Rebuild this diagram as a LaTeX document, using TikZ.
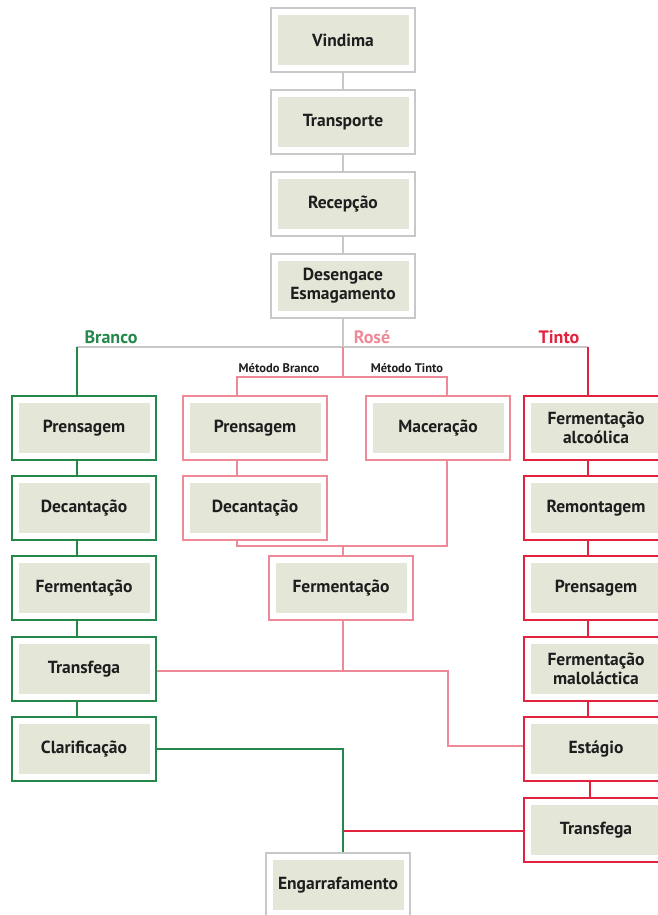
\documentclass[tikz,border=0pt]{standalone}
\usepackage{fontspec}
\setmainfont{PT Sans}
\usepackage{tikz}
\usetikzlibrary{backgrounds}
\usepackage{xcolor}

\definecolor{boxfill}{HTML}{E4E6D8}
\definecolor{greyline}{HTML}{C8C8C8}
\definecolor{branco}{HTML}{23884A}
\definecolor{rose}{HTML}{EE8A97}
\definecolor{tinto}{HTML}{E2223F}
\definecolor{boxtext}{HTML}{1E1E1E}

\begin{document}
\begin{tikzpicture}[x=1pt,y=-1pt,
  etapa/.style={draw=#1, line width=1.4pt, fill=white, inner sep=0pt,
    minimum width=144pt, minimum height=64pt, align=center, text=boxtext,
    font=\bfseries\fontsize{17.5}{19}\selectfont,
    path picture={\fill[boxfill]
      ([shift={(6.5pt,7pt)}]path picture bounding box.south west) rectangle
      ([shift={(-6.5pt,-7pt)}]path picture bounding box.north east);}},
  ligacao/.style={draw=#1, line width=2pt},
  vinho/.style={text=#1, font=\bfseries\fontsize{18}{20}\selectfont},
  metodo/.style={text=boxtext, font=\bfseries\fontsize{12.5}{14}\selectfont},
]
  \useasboundingbox (0,0) rectangle (658,915);
  \clip (0,0) rectangle (658,915);

  % tronco comum
  \node[etapa=greyline] (vindima)    at (343,40)  {Vindima};
  \node[etapa=greyline] (transporte) at (343,122) {Transporte};
  \node[etapa=greyline] (recepcao)   at (343,204) {Recepção};
  \node[etapa=greyline] (desengace)  at (343,286) {Desengace\\Esmagamento};

  % branco
  \node[etapa=branco] (bprens) at (84,428) {Prensagem};
  \node[etapa=branco] (bdecan) at (84,508) {Decantação};
  \node[etapa=branco] (bferm)  at (84,588) {Fermentação};
  \node[etapa=branco] (btrans) at (84,669) {Transfega};
  \node[etapa=branco] (bclar)  at (84,749) {Clarificação};

  % rose
  \node[etapa=rose] (rprens) at (255,428) {Prensagem};
  \node[etapa=rose] (rdecan) at (255,508) {Decantação};
  \node[etapa=rose] (rmacer) at (438,428) {Maceração};
  \node[etapa=rose] (rferm)  at (341,588) {Fermentação};

  % tinto
  \node[etapa=tinto] (tferm)  at (596,428) {Fermentação\\alcoólica};
  \node[etapa=tinto] (tremon) at (596,508) {Remontagem};
  \node[etapa=tinto] (tprens) at (596,588) {Prensagem};
  \node[etapa=tinto] (tmalo)  at (596,669) {Fermentação\\maloláctica};
  \node[etapa=tinto] (testag) at (596,749) {Estágio};
  \node[etapa=tinto] (ttrans) at (596,830) {Transfega};

  \node[etapa=greyline] (engarraf) at (338,885) {Engarrafamento};

  % rotulos
  \node[vinho=branco] (lbranco) at (111,337) {Branco};
  \node[vinho=rose]   (lrose)   at (372,337) {Rosé};
  \node[vinho=tinto]  (ltinto)  at (559,337) {Tinto};
  \node[metodo] (mbranco) at (279,368) {Método Branco};
  \node[metodo] (mtinto)  at (407,368) {Método Tinto};

  \coordinate (split)  at (343,347);
  \coordinate (btop)   at (77,347);
  \coordinate (ttop)   at (588,347);
  \coordinate (rsplit) at (343,377);
  \coordinate (rleft)  at (237,377);
  \coordinate (rright) at (447,377);
  \coordinate (rjl)    at (237,546);
  \coordinate (rjr)    at (447,546);
  \coordinate (rout)   at (343,671);
  \coordinate (rbend)  at (448,671);
  \coordinate (rend)   at (448,746);
  \coordinate (bjoin)  at (343,749);
  \coordinate (tjoin)  at (343,831);

  \begin{scope}[on background layer]
    \draw[ligacao=greyline] (vindima) -- (split);
    \draw[ligacao=greyline] (btop) -- (ttop);
    % branco
    \draw[ligacao=branco] (btop) -- (btop |- bclar.center);
    \draw[ligacao=branco] (bclar.east) -- (bjoin) -- (bjoin |- engarraf.north);
    % rose
    \draw[ligacao=rose] (split) -- (rsplit);
    \draw[ligacao=rose] (rleft) -- (rjl) -- (rjr) -- (rright) -- cycle;
    \draw[ligacao=rose] (rsplit |- rjl) -- (rout);
    \draw[ligacao=rose] (btrans.east |- rout) -- (rbend) -- (rend)
      -- (testag.west |- rend);
    % tinto
    \draw[ligacao=tinto] (ttop) -- (ttop |- testag.center);
    \draw[ligacao=tinto] ([xshift=-6pt]testag.south) -- ([xshift=-6pt]ttrans.north);
    \draw[ligacao=tinto] (ttrans.west |- tjoin) -- (tjoin);
  \end{scope}
\end{tikzpicture}
\end{document}
